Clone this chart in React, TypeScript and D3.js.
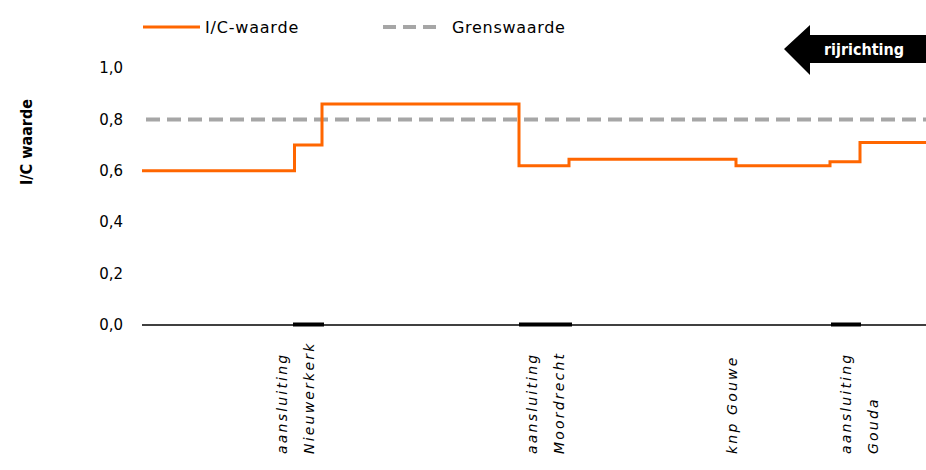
import React from "react";
import * as d3 from "d3";

// Position along the road (km) where each I/C segment starts, plus final end
const segmentBreaks = [0, 3.05, 3.6, 7.54, 8.54, 11.88, 13.76, 14.36, 15.68];
const icValues = [0.6, 0.7, 0.86, 0.62, 0.645, 0.62, 0.635, 0.71];
const limitValue = 0.8;
const yTicks = [0, 0.2, 0.4, 0.6, 0.8, 1.0];

// junction zones marked on the axis
const junctionStarts = [3.02, 7.54, 13.78];
const junctionEnds = [3.64, 8.6, 14.38];

// category labels
const labelPositions = [3.08, 8.08, 11.8, 14.36];
const labelLines = [
  ["aansluiting", "Nieuwerkerk"],
  ["aansluiting", "Moordrecht"],
  ["knp Gouwe"],
  ["aansluiting", "Gouda"],
];

const legendLabels = ["I/C-waarde", "Grenswaarde"];
const yTitle = "I/C waarde";
const arrowText = "rijrichting";

const W = 926;
const H = 470;
const ORANGE = "#FF6600";
const GREY = "#A6A6A6";
const FONT = "'DejaVu Sans', Verdana, sans-serif";

export default function App() {
  const x = d3.scaleLinear().domain([0, 15.68]).range([142, 926]);
  const y = d3.scaleLinear().domain([0, 1]).range([325, 68]);

  const pts: [number, number][] = icValues.map((v, i) => [segmentBreaks[i], v]);
  pts.push([segmentBreaks[segmentBreaks.length - 1], icValues[icValues.length - 1]]);
  const line = d3
    .line<[number, number]>()
    .x((d) => x(d[0]))
    .y((d) => y(d[1]))
    .curve(d3.curveStepAfter);

  const fmt = (v: number) => d3.format(".1f")(v).replace(".", ",");

  return (
    <svg
      width={W}
      height={H}
      style={{ position: "absolute", left: 0, top: 0, background: "#fff" }}
      fontFamily={FONT}
    >
      <rect width={W} height={H} fill="#fff" />
      {/* legend */}
      <g>
        <line x1={143} x2={200} y1={27} y2={27} stroke={ORANGE} strokeWidth={3} />
        <text x={205} y={27} dy="0.35em" fontSize={16} letterSpacing={0.8} fill="#000">
          {legendLabels[0]}
        </text>
        <line
          x1={383}
          x2={442}
          y1={27}
          y2={27}
          stroke={GREY}
          strokeWidth={4}
          strokeDasharray="13,7"
        />
        <text x={452} y={27} dy="0.35em" fontSize={16} letterSpacing={0.7} fill="#000">
          {legendLabels[1]}
        </text>
      </g>

      {/* direction arrow */}
      <path
        d={`M784,49 L810,25 L810,35 L926,35 L926,63 L810,63 L810,75 Z`}
        fill="#000"
      />
      <text
        x={864}
        y={49}
        dy="0.35em"
        textAnchor="middle"
        fontSize={16}
        fontWeight="bold"
        fill="#fff"
        fontFamily="'DejaVu Sans Condensed', 'DejaVu Sans', sans-serif"
      >
        {arrowText}
      </text>

      {/* y title */}
      <text
        transform={`translate(26,142) rotate(-90)`}
        textAnchor="middle"
        dy="0.35em"
        fontSize={16}
        fontWeight="bold"
        fontFamily="'DejaVu Sans Condensed', 'DejaVu Sans', sans-serif"
      >
        {yTitle}
      </text>

      {/* y tick labels */}
      {yTicks.map((t) => (
        <text
          key={t}
          x={123}
          y={y(t)}
          dy="0.35em"
          textAnchor="end"
          fontSize={15}
          fill="#000"
        >
          {fmt(t)}
        </text>
      ))}

      {/* limit line */}
      <line
        x1={x(0)}
        x2={x(15.68)}
        y1={y(limitValue)}
        y2={y(limitValue)}
        stroke={GREY}
        strokeWidth={4}
        strokeDasharray="14,7"
        strokeDashoffset={17}
      />

      {/* I/C line */}
      <path d={line(pts) || ""} fill="none" stroke={ORANGE} strokeWidth={3} />

      {/* x axis */}
      <line x1={x(0)} x2={x(15.68)} y1={y(0)} y2={y(0)} stroke="#000" strokeWidth={1.5} />
      {junctionStarts.map((s, i) => (
        <rect
          key={i}
          x={x(s)}
          width={x(junctionEnds[i]) - x(s)}
          y={y(0) - 2.5}
          height={4}
          fill="#000"
        />
      ))}

      {/* category labels */}
      {labelPositions.map((p, i) => {
        const lines = labelLines[i];
        const n = lines.length;
        return (
          <g key={i}>
            {lines.map((l, j) => (
              <text
                key={j}
                transform={`translate(${x(p) + (j - (n - 1) / 2) * 27},454) rotate(-90)`}
                dy="0.35em"
                textAnchor="start"
                fontSize={14}
                fontStyle="italic"
                letterSpacing={2.2}
                fill="#000"
              >
                {l}
              </text>
            ))}
          </g>
        );
      })}
    </svg>
  );
}
